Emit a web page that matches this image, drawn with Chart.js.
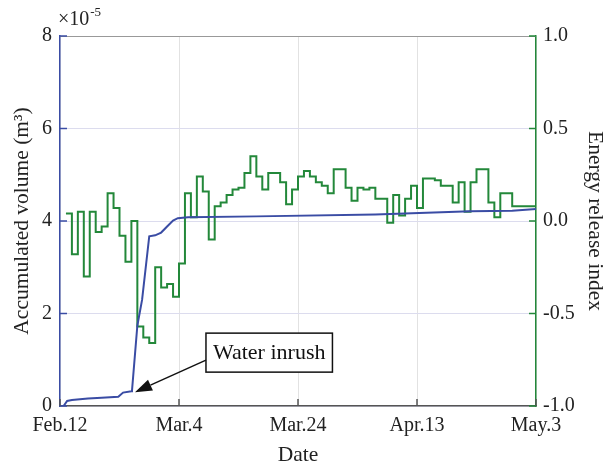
<!DOCTYPE html>
<html>
<head>
<meta charset="utf-8">
<script src="https://cdn.jsdelivr.net/npm/chart.js@4"></script>
<style>
  html, body { margin: 0; padding: 0; background: #fff; }
  #wrap { position: relative; width: 608px; height: 472px; }
</style>
</head>
<body>
<div id="wrap"><canvas id="chart"></canvas></div>
<script>
// x axis: days after Feb.12, one tick every 20 days
const dateLabels = ['Feb.12', 'Mar.4', 'Mar.24', 'Apr.13', 'May.3'];

// accumulated volume (x1e-5 m^3), read at these day positions
const volumeDays = [0, 0.6, 1.2, 2, 4.7, 7, 9.8, 10.6, 12, 12.1, 13, 13.8, 15, 16, 17, 18, 19, 19.8, 21.5, 33, 53, 69, 76, 80];
const volumeValues = [0, 0, 0.11, 0.13, 0.16, 0.18, 0.20, 0.29, 0.32, 0.33, 1.74, 2.30, 3.67, 3.69, 3.75, 3.88, 4.01, 4.06, 4.08, 4.10, 4.14, 4.21, 4.22, 4.26];

// energy release index, one value per day starting Feb.13 (day 1)
const energyValues = [
  0.04, -0.18, 0.05, -0.30, 0.05, -0.06, -0.03, 0.15, 0.07, -0.08,
  -0.22, 0.00, -0.57, -0.63, -0.66, -0.25, -0.36, -0.34, -0.41, -0.23,
  0.15, 0.02, 0.24, 0.16, -0.10, 0.08, 0.10, 0.14, 0.17, 0.18,
  0.26, 0.35, 0.24, 0.17, 0.26, 0.26, 0.21, 0.09, 0.17, 0.24,
  0.27, 0.24, 0.21, 0.19, 0.15, 0.28, 0.28, 0.18, 0.11, 0.18,
  0.17, 0.18, 0.12, 0.12, -0.01, 0.14, 0.03, 0.12, 0.19, 0.07,
  0.23, 0.23, 0.22, 0.19, 0.19, 0.10, 0.21, 0.05, 0.21, 0.28,
  0.28, 0.10, 0.02, 0.15, 0.15, 0.08, 0.08, 0.08, 0.08, 0.08
];

// where the water inrush arrow points (day, volume)
const inrushPoint = [12.6, 0.3];

const BLUE = '#3a4ca4';
const GREEN = '#23883a';
const FONT = "'Liberation Serif', 'Times New Roman', serif";
const tickFont = { family: FONT, size: 20 };
const titleFont = { family: FONT, size: 21.5 };

const extras = {
  id: 'extras',
  afterDraw(chart) {
    const { ctx, chartArea: a, scales } = chart;
    const { x, yL, yR } = scales;
    ctx.save();

    // top frame line
    ctx.strokeStyle = '#999';
    ctx.lineWidth = 1;
    ctx.beginPath();
    ctx.moveTo(a.left, a.top + 0.5);
    ctx.lineTo(a.right, a.top + 0.5);
    ctx.stroke();

    // inward tick marks
    ctx.lineWidth = 1.5;
    ctx.strokeStyle = BLUE;
    yL.ticks.forEach(t => {
      const py = yL.getPixelForValue(t.value);
      ctx.beginPath(); ctx.moveTo(a.left, py); ctx.lineTo(a.left + 7, py); ctx.stroke();
    });
    ctx.strokeStyle = GREEN;
    yR.ticks.forEach(t => {
      const py = yR.getPixelForValue(t.value);
      ctx.beginPath(); ctx.moveTo(a.right, py); ctx.lineTo(a.right - 7, py); ctx.stroke();
    });
    ctx.strokeStyle = '#555';
    x.ticks.forEach(t => {
      const px = x.getPixelForValue(t.value);
      ctx.beginPath(); ctx.moveTo(px, a.bottom); ctx.lineTo(px, a.bottom - 7); ctx.stroke();
    });

    // exponent label
    ctx.fillStyle = '#222';
    ctx.textBaseline = 'alphabetic';
    ctx.textAlign = 'left';
    ctx.font = `20px ${FONT}`;
    ctx.fillText('\u00d710', a.left - 2, a.top - 11);
    const w = ctx.measureText('\u00d710').width;
    ctx.font = `13px ${FONT}`;
    ctx.fillText('-5', a.left - 2 + w + 1, a.top - 20);

    // water inrush annotation
    const tx = x.getPixelForValue(inrushPoint[0]);
    const ty = yL.getPixelForValue(inrushPoint[1]);
    ctx.font = `22px ${FONT}`;
    const label = 'Water inrush';
    const tw = ctx.measureText(label).width;
    const bx = tx + 71, by = ty - 59, bw = tw + 14, bh = 39;
    ctx.fillStyle = '#fff';
    ctx.fillRect(bx, by, bw, bh);
    ctx.strokeStyle = '#111';
    ctx.lineWidth = 1.5;
    ctx.strokeRect(bx, by, bw, bh);
    ctx.fillStyle = '#111';
    ctx.textBaseline = 'middle';
    ctx.fillText(label, bx + 7, by + bh / 2 + 1);

    // arrow line and head
    const sx = bx, sy = by + 27;
    const ang = Math.atan2(ty - sy, tx - sx);
    const hl = 17, hw = 6;
    const hx = tx - hl * Math.cos(ang), hy = ty - hl * Math.sin(ang);
    ctx.beginPath();
    ctx.moveTo(sx, sy);
    ctx.lineTo(hx, hy);
    ctx.stroke();
    ctx.beginPath();
    ctx.moveTo(tx, ty);
    ctx.lineTo(hx + hw * Math.sin(ang), hy - hw * Math.cos(ang));
    ctx.lineTo(hx - hw * Math.sin(ang), hy + hw * Math.cos(ang));
    ctx.closePath();
    ctx.fill();

    ctx.restore();
  }
};

new Chart(document.getElementById('chart'), {
  type: 'line',
  data: {
    datasets: [
      {
        label: 'Accumulated volume',
        data: volumeDays.map((d, i) => ({ x: d, y: volumeValues[i] })),
        yAxisID: 'yL',
        borderColor: BLUE,
        borderWidth: 2,
        pointRadius: 0,
        tension: 0
      },
      {
        label: 'Energy release index',
        data: energyValues.map((v, i) => ({ x: i + 1, y: v })),
        yAxisID: 'yR',
        borderColor: GREEN,
        borderWidth: 2,
        pointRadius: 0,
        stepped: 'before'
      }
    ]
  },
  options: {
    responsive: true,
    maintainAspectRatio: false,
    animation: false,
    layout: { padding: { top: 36 } },
    plugins: { legend: { display: false }, tooltip: { enabled: false } },
    scales: {
      x: {
        type: 'linear',
        min: 0,
        max: 80,
        afterFit: s => { s.height = 66; },
        ticks: {
          stepSize: 20,
          maxRotation: 0,
          padding: 8,
          color: '#222',
          font: tickFont,
          callback: v => dateLabels[v / 20]
        },
        grid: { color: '#e2e2e2', drawTicks: false },
        border: { color: '#555', width: 1.5 },
        title: { display: true, text: 'Date', color: '#222', font: titleFont, padding: { top: 0, bottom: 4 } }
      },
      yL: {
        position: 'left',
        min: 0,
        max: 8,
        afterFit: s => { s.width = 60; },
        ticks: { stepSize: 2, padding: 8, color: '#222', font: tickFont },
        grid: { color: '#dcdcee', drawTicks: false },
        border: { color: BLUE, width: 1.5 },
        title: { display: true, text: 'Accumulated volume (m\u00b3)', color: '#222', font: titleFont, padding: { top: 9, bottom: 0 } }
      },
      yR: {
        position: 'right',
        min: -1,
        max: 1,
        afterFit: s => { s.width = 72; },
        ticks: { stepSize: 0.5, padding: 7, color: '#222', font: tickFont, callback: v => v.toFixed(1) },
        grid: { display: false, drawTicks: false },
        border: { color: GREEN, width: 1.5 },
        title: { display: true, text: 'Energy release index', color: '#222', font: titleFont, padding: { top: 0, bottom: 0 } }
      }
    }
  },
  plugins: [extras]
});
</script>
</body>
</html>
